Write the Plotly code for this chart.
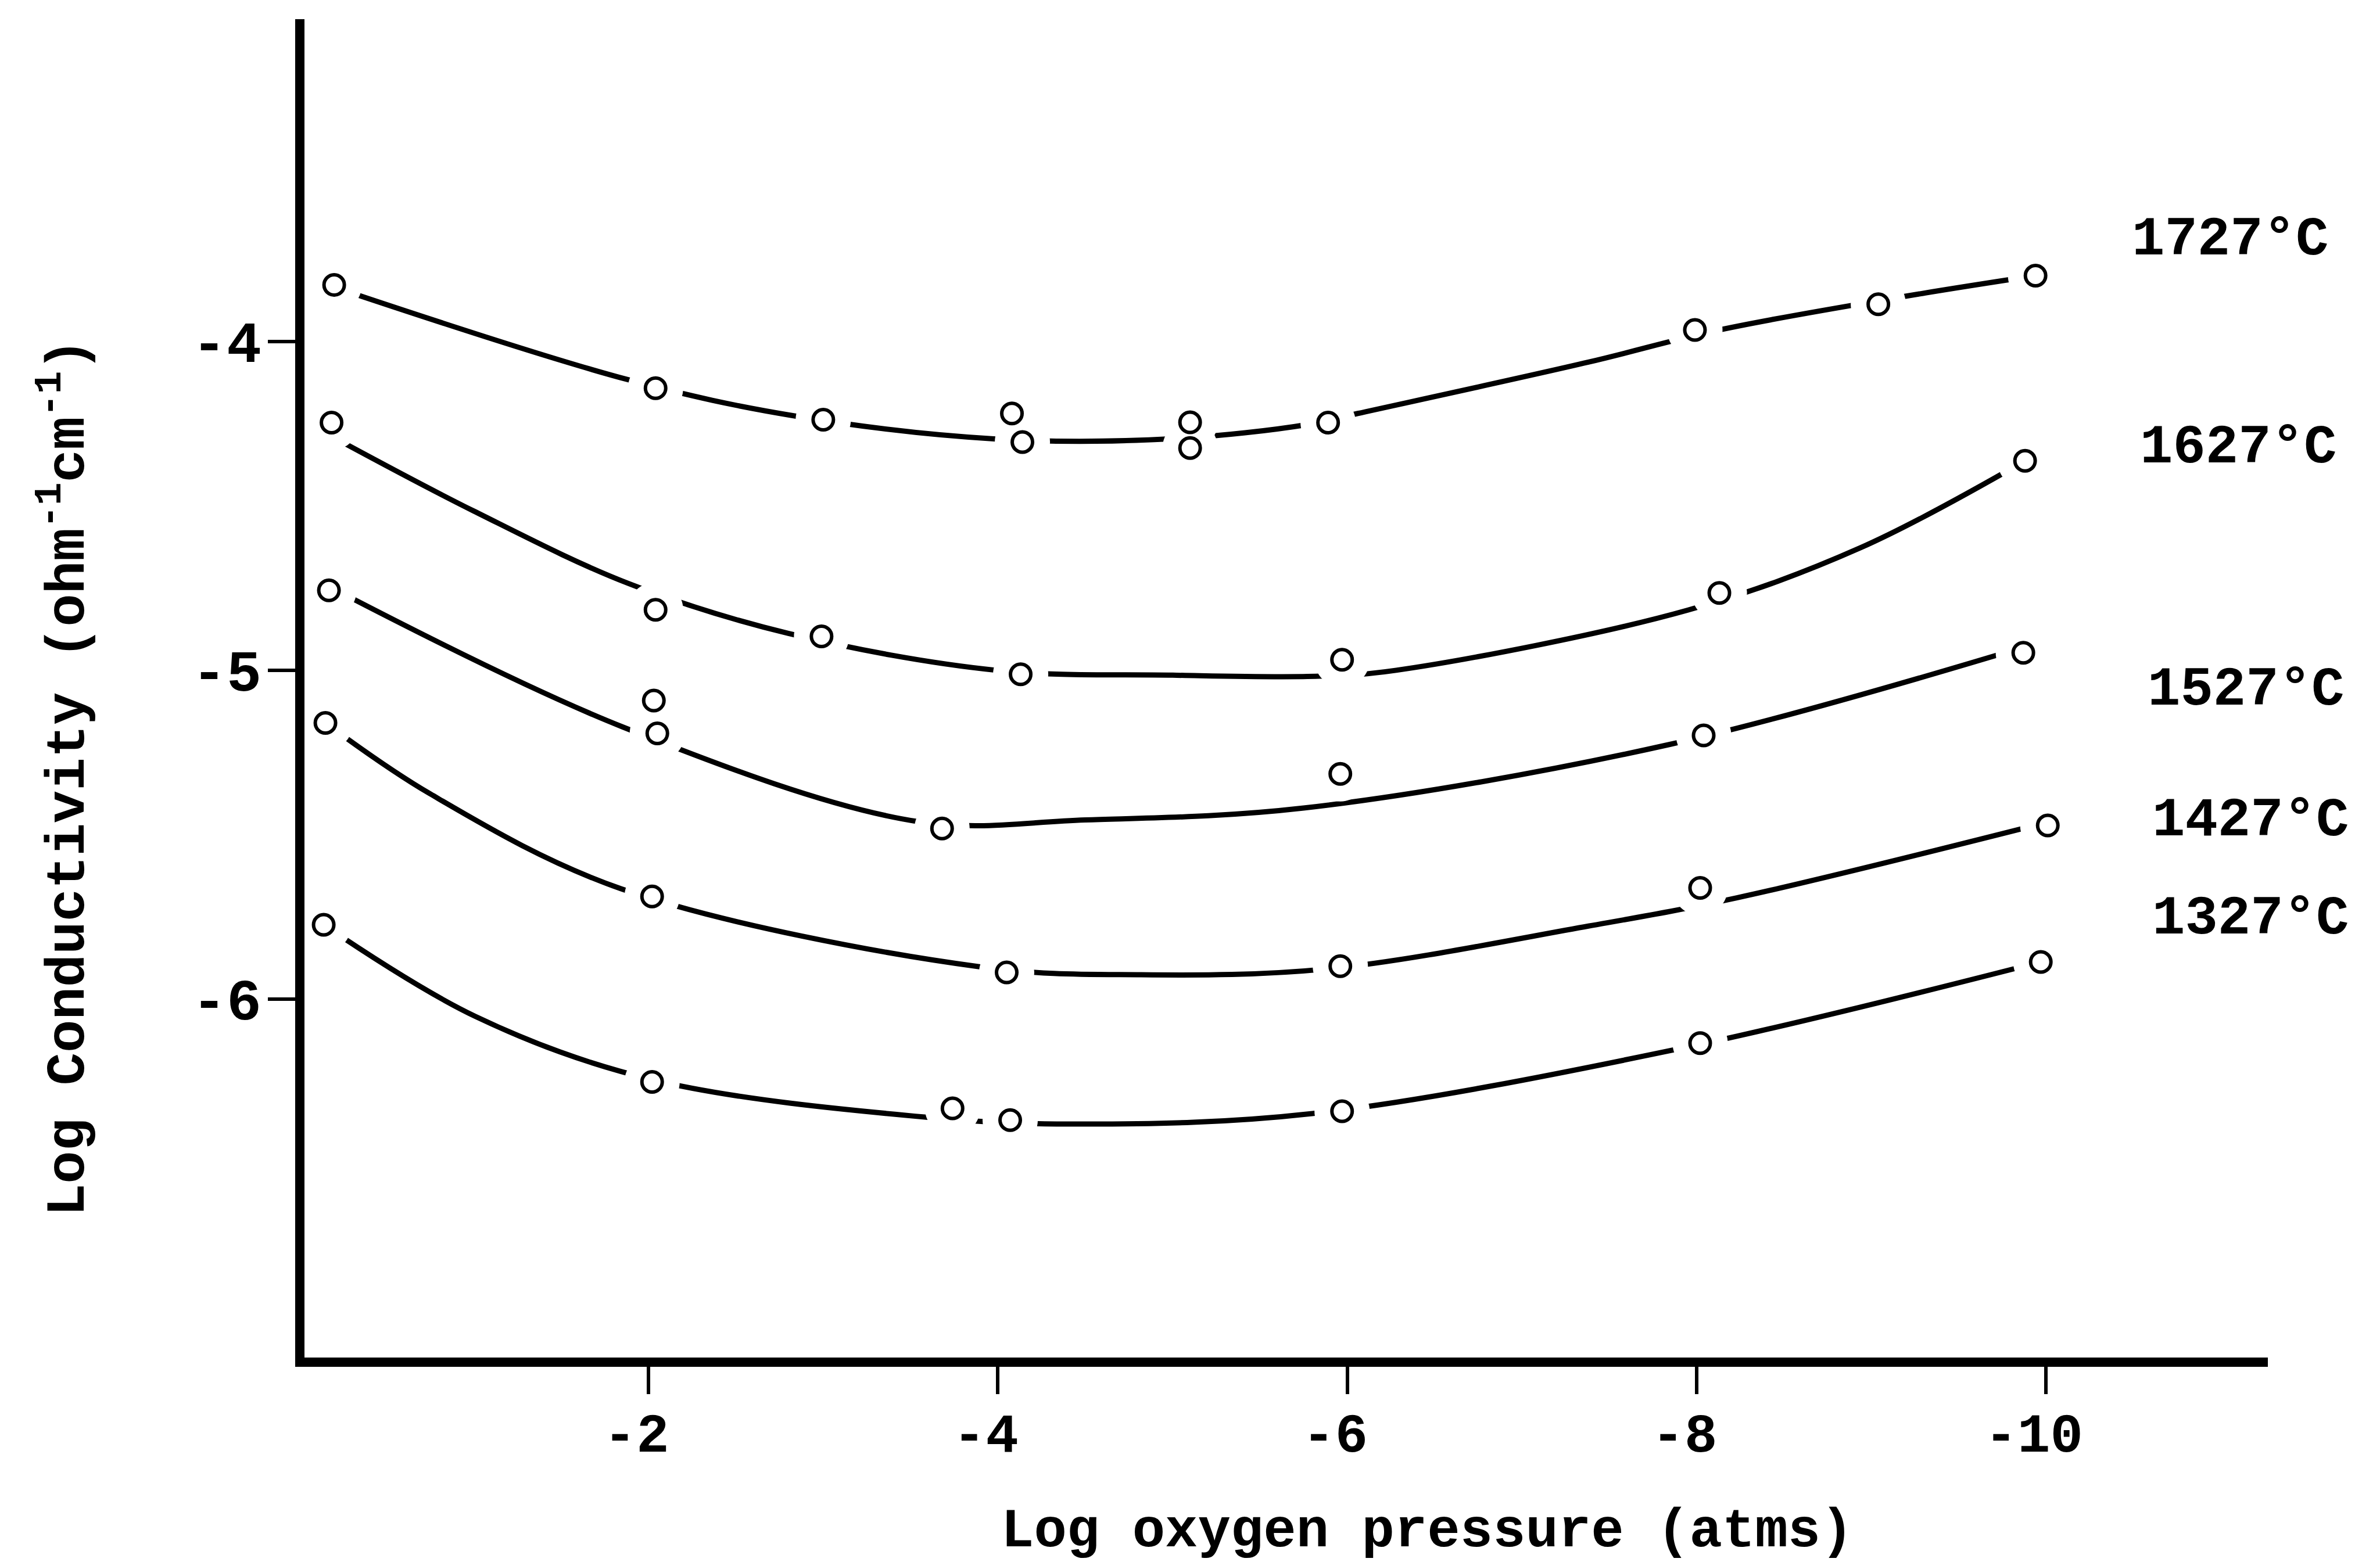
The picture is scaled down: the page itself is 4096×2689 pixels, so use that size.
import plotly.graph_objects as go

# ---------------- data ----------------
temps = ["1727°C", "1627°C", "1527°C", "1427°C", "1327°C"]

# measured points: x = log oxygen pressure (atm), y = log conductivity
pts_x_1727 = [-0.20, -2.04, -3.00, -4.08, -4.14, -5.10, -5.10, -5.89, -7.99, -9.04, -9.94]
pts_y_1727 = [-3.828, -4.142, -4.238, -4.219, -4.306, -4.246, -4.324, -4.247, -3.965, -3.887, -3.80]
pts_x_1627 = [-0.185, -2.04, -2.99, -4.13, -5.97, -8.13, -9.88]
pts_y_1627 = [-4.247, -4.816, -4.897, -5.012, -4.968, -4.765, -4.363]
pts_x_1527 = [-0.17, -2.03, -2.05, -3.68, -5.96, -8.04, -9.87]
pts_y_1527 = [-4.757, -5.092, -5.192, -5.481, -5.315, -5.198, -4.947]
pts_x_1427 = [-0.15, -2.02, -4.05, -5.96, -8.02, -10.01]
pts_y_1427 = [-5.16, -5.688, -5.919, -5.90, -5.662, -5.472]
pts_x_1327 = [-0.14, -2.02, -3.74, -4.07, -5.97, -8.02, -9.97]
pts_y_1327 = [-5.774, -6.252, -6.332, -6.368, -6.341, -6.134, -5.887]

# hand-drawn smooth curves: knots
curve_x_1727 = [-0.20, -1.88, -2.83, -4.0, -5.0, -5.77, -6.06, -7.38, -8.13, -9.18, -9.94]
curve_y_1727 = [-3.835, -4.116, -4.226, -4.297, -4.296, -4.253, -4.219, -4.063, -3.965, -3.864, -3.80]
curve_x_1627 = [-0.19, -1.0, -1.88, -2.80, -3.99, -5.0, -5.84, -6.28, -7.95, -8.94, -9.88]
curve_y_1627 = [-4.29, -4.516, -4.735, -4.888, -5.0, -5.015, -5.018, -5.0, -4.817, -4.627, -4.363]
curve_x_1527 = [-0.17, -1.85, -3.54, -4.5, -5.75, -7.85, -9.87]
curve_y_1527 = [-4.745, -5.172, -5.46, -5.455, -5.419, -5.225, -4.93]
curve_x_1427 = [-0.15, -0.75, -1.84, -3.90, -4.82, -5.89, -7.38, -8.23, -10.01]
curve_y_1427 = [-5.16, -5.376, -5.664, -5.902, -5.926, -5.908, -5.778, -5.692, -5.462]
curve_x_1327 = [-0.14, -1.01, -2.02, -3.59, -4.5, -5.80, -7.90, -9.97]
curve_y_1327 = [-5.774, -6.053, -6.245, -6.359, -6.38, -6.348, -6.151, -5.887]

x_tick_vals = [-2, -4, -6, -8, -10]
x_tick_text = ["-2", "-4", "-6", "-8", "-10"]
y_tick_vals = [-4, -5, -6]
y_tick_text = ["-4", "-5", "-6"]

x_title = "Log oxygen pressure (atms)"
y_title = "Log Conductivity (ohm<sup>-1</sup>cm<sup>-1</sup>)"

# ---------------- figure ----------------
points = [(pts_x_1727, pts_y_1727), (pts_x_1627, pts_y_1627), (pts_x_1527, pts_y_1527),
          (pts_x_1427, pts_y_1427), (pts_x_1327, pts_y_1327)]
curves = [(curve_x_1727, curve_y_1727), (curve_x_1627, curve_y_1627), (curve_x_1527, curve_y_1527),
          (curve_x_1427, curve_y_1427), (curve_x_1327, curve_y_1327)]

FONT = "Liberation Mono, Courier New, monospace"
fig = go.Figure()

for cx, cy in curves:
    fig.add_trace(go.Scatter(x=cx, y=cy, mode="lines", hoverinfo="skip",
                             line=dict(color="black", width=9, shape="spline", smoothing=1.0)))
for px, py in points:
    fig.add_trace(go.Scatter(x=px, y=py, mode="markers", hoverinfo="skip",
                             marker=dict(size=95, color="white", line=dict(width=0))))
for px, py in points:
    fig.add_trace(go.Scatter(x=px, y=py, mode="markers",
                             marker=dict(size=35, color="white", symbol="circle",
                                         line=dict(color="black", width=6))))

W, H = 4096, 2689
L, R, T, B = 524, 193, 33, 352

label_pos = [(0.9302, 0.8351), (0.9343, 0.6797), (0.9381, 0.4987), (0.9405, 0.4010), (0.9405, 0.3277)]
annotations = []
for t, (ax_, ay_) in zip(temps, label_pos):
    annotations.append(dict(text=t, xref="paper", yref="paper", x=ax_, y=ay_,
                            xanchor="left", yanchor="middle", showarrow=False,
                            font=dict(family=FONT, size=94, color="black", weight="bold")))
annotations.append(dict(text=x_title, xref="paper", yref="paper", x=0.572, y=-0.130,
                        xanchor="center", yanchor="middle", showarrow=False,
                        font=dict(family=FONT, size=94, color="black", weight="bold")))
annotations.append(dict(text=y_title, xref="paper", yref="paper", x=-0.1225, y=0.4336,
                        xanchor="center", yanchor="middle", showarrow=False, textangle=-90,
                        font=dict(family=FONT, size=94, color="black", weight="bold")))

axis_common = dict(showgrid=False, zeroline=False, showline=True, linecolor="black",
                   linewidth=16, ticks="outside", ticklen=47, tickwidth=6, tickcolor="black",
                   layer="above traces")

fig.update_layout(
    width=W, height=H,
    margin=dict(l=L, r=R, t=T, b=B, pad=0),
    paper_bgcolor="white", plot_bgcolor="white",
    showlegend=False,
    xaxis=dict(range=[-0.03, -11.27], tickvals=x_tick_vals, ticktext=x_tick_text,
               ticklabelstandoff=-14, ticklabelshift=21,
               tickfont=dict(family=FONT, size=94, color="black", weight="bold"),
               **axis_common),
    yaxis=dict(range=[-7.09, -3.02], tickvals=y_tick_vals, ticktext=y_tick_text,
               ticklabelstandoff=-9,
               tickfont=dict(family=FONT, size=100, color="black", weight="bold"),
               **axis_common),
    annotations=annotations,
)

fig.write_html("out.html", config={"displayModeBar": False},
               post_script="document.body.style.margin='0';")
